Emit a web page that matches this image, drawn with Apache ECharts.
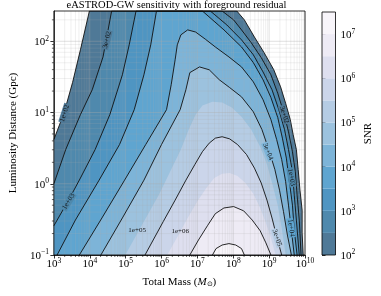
<!DOCTYPE html>
<html><head><meta charset="utf-8">
<script src="https://cdn.jsdelivr.net/npm/echarts@6/dist/echarts.min.js"></script>
<style>html,body{margin:0;padding:0;background:#fff}#c{width:381px;height:296px}</style>
</head><body><div id="c"></div>
<script>
// ---- data: contour polylines as [log10 M (Msun), log10 D (Gpc)] ----
const snr1e2 = [[3.00,0.62],[3.28,0.99],[3.52,1.42],[3.74,1.88],[3.99,2.425],[8.10,2.425],[8.31,2.30],[8.59,2.06],[8.86,1.84],[9.13,1.60],[9.32,1.36],[9.46,1.13],[9.59,0.90],[9.67,0.69],[9.76,0.48],[9.81,0.20],[9.86,-0.09],[9.92,-0.37],[9.92,-0.69],[9.95,-1.00]];
const snr3e2 = [[3.00,0.00],[3.33,0.48],[3.74,0.97],[4.07,1.32],[4.37,1.78],[4.61,2.425],[7.69,2.425],[8.01,2.30],[8.23,2.16],[8.50,1.98],[8.78,1.77],[9.05,1.53],[9.24,1.27],[9.40,1.01],[9.54,0.73],[9.65,0.45],[9.73,0.17],[9.78,-0.16],[9.84,-0.51],[9.89,-1.00]];
const snr1e3 = [[3.00,-0.59],[3.41,-0.23],[3.74,0.08],[4.15,0.48],[4.56,0.97],[4.91,1.53],[5.10,1.95],[5.29,2.425],[7.36,2.425],[7.82,2.23],[8.23,2.02],[8.56,1.81],[8.83,1.57],[9.08,1.32],[9.27,1.04],[9.43,0.76],[9.54,0.48],[9.65,0.17],[9.70,-0.16],[9.76,-0.51],[9.84,-1.00]];
const snr3e3 = [[3.09,-1.00],[3.60,-0.51],[4.26,0.05],[4.83,0.55],[5.24,1.04],[5.51,1.53],[5.70,1.95],[5.86,2.425],[7.14,2.425],[7.74,2.16],[8.23,1.92],[8.56,1.70],[8.83,1.46],[9.05,1.21],[9.24,0.93],[9.37,0.64],[9.48,0.36],[9.56,0.05],[9.65,-0.30],[9.70,-0.65],[9.78,-1.00]];
const snr1e4 = [[3.71,-1.00],[4.34,-0.48],[4.97,0.05],[5.56,0.55],[6.14,1.04],[6.27,1.39],[6.38,1.74],[6.44,1.95],[6.54,2.09],[6.73,2.16],[6.95,2.13],[7.22,2.03],[7.50,1.92],[7.88,1.78],[8.23,1.64],[8.56,1.43],[8.83,1.18],[9.05,0.90],[9.21,0.62],[9.35,0.34],[9.46,0.03],[9.54,-0.30],[9.62,-0.65],[9.70,-1.00]];
const snr3e4 = [[4.31,-1.00],[4.91,-0.48],[5.51,0.05],[6.00,0.55],[6.52,1.04],[6.68,1.32],[6.79,1.56],[7.06,1.64],[7.33,1.60],[7.61,1.46],[7.90,1.35],[8.23,1.22],[8.56,1.01],[8.80,0.76],[8.99,0.48],[9.16,0.20],[9.29,-0.09],[9.40,-0.39],[9.51,-0.72],[9.62,-1.00]];
const snr1e5 = [[4.99,-1.00],[5.51,-0.53],[5.92,-0.16],[6.27,0.20],[6.54,0.48],[6.76,0.76],[6.95,0.97],[7.14,1.10],[7.42,1.15],[7.69,1.14],[7.96,1.07],[8.23,0.94],[8.50,0.76],[8.75,0.52],[8.94,0.27],[9.10,-0.02],[9.24,-0.30],[9.35,-0.62],[9.46,-1.00]];
const snr3e5 = [[5.54,-1.00],[6.05,-0.53],[6.38,-0.23],[6.68,0.05],[6.93,0.27],[7.14,0.45],[7.33,0.57],[7.50,0.64],[7.69,0.66],[7.90,0.63],[8.12,0.55],[8.37,0.41],[8.59,0.22],[8.78,0.01],[8.94,-0.23],[9.08,-0.48],[9.21,-0.74],[9.35,-1.00]];
const snr1e6 = [[6.16,-1.00],[6.46,-0.73],[6.73,-0.48],[7.01,-0.24],[7.25,-0.06],[7.47,0.08],[7.69,0.14],[7.90,0.15],[8.12,0.11],[8.34,0.01],[8.56,-0.14],[8.75,-0.34],[8.91,-0.55],[9.05,-0.76],[9.18,-1.00]];
const snr3e6 = [[6.79,-1.00],[7.03,-0.79],[7.28,-0.59],[7.50,-0.42],[7.74,-0.34],[8.01,-0.32],[8.29,-0.38],[8.53,-0.51],[8.75,-0.66],[8.91,-0.83],[9.05,-1.00]];
const snr1e7 = [[7.42,-1.00],[7.52,-0.91],[7.69,-0.86],[7.88,-0.84],[8.07,-0.86],[8.23,-0.91],[8.31,-1.00]];

// fill levels (log10 SNR) and the colour of the band starting at each level
const fillLevels = [2, 2.5, 3, 3.5, 4, 4.5, 5, 5.5, 6, 6.5, 7];
const cbarTop = 7.5;
const bandColors = ['#4f7997','#4f89ad','#4f95c2','#5fa5d0','#7db4d8','#9cc2de','#b5cce4','#cbd5ea','#dedfef','#eeebf5','#f8f5fa'];
const contourSets = [snr1e2, snr3e2, snr1e3, snr3e3, snr1e4, snr3e4, snr1e5, snr3e5, snr1e6, snr3e6, snr1e7];
// contour lines visible in the picture (1e5 and 1e6 appear only as fill edges)
const contourDrawn = [true, true, true, true, true, true, false, true, false, true, true];

// inline contour labels: [text, log10 M, log10 D, rotation deg, background band (-1 none)]
const contourLabels = [
  ['1e+02', 3.30, 0.99, 72, 0],
  ['3e+02', 4.48, 2.02, 76, 0],
  ['1e+03', 3.41, -0.25, 58, 1],
  ['1e+05', 5.32, -0.65, 0, -1],
  ['1e+06', 6.52, -0.67, 0, -1],
  ['3e+04', 8.97, 0.45, -68, 4],
  ['3e+05', 9.22, -0.76, -72, 6],
  ['3e+02', 9.42, 0.97, -72, 0],
  ['1e+03', 9.62, 0.09, -80, 1],
  ['1e+04', 9.61, -0.62, -82, 3]
];

const massTicks = [1e3, 1e4, 1e5, 1e6, 1e7, 1e8, 1e9, 1e10];
const distTicks = [0.1, 1, 10, 100];
const snrTicks = [1e2, 1e3, 1e4, 1e5, 1e6, 1e7];
const minorMult = [2, 3, 4, 5, 6, 7, 8, 9];
const xMin = 1e3, xMax = 1e10, yMin = 0.1, yMax = Math.pow(10, 2.425);

const F = "'Liberation Serif','Times New Roman',serif";
const P = v => Math.pow(10, v);

function supLabel(v) {
  const e = Math.round(Math.log10(v));
  if (Math.abs(Math.log10(v) - e) > 1e-6) return '';
  const s = e < 0 ? '\u2212' + (-e) : String(e);
  return '{b|10}{s|' + s + '}';
}
const rich = {
  b: {fontFamily: F, fontSize: 11, color: '#000', lineHeight: 13, verticalAlign: 'bottom'},
  s: {fontFamily: F, fontSize: 7.5, color: '#000', lineHeight: 6, verticalAlign: 'top'}
};

// grid lines (major + minor) positions
const xMinor = [], yMinor = [];
massTicks.slice(0, -1).forEach(d => minorMult.forEach(m => xMinor.push(d * m)));
distTicks.forEach(d => minorMult.forEach(m => { if (d * m < yMax) yMinor.push(d * m); }));
const gridData = [];
massTicks.forEach(v => gridData.push([v, 1, 0, 1]));
xMinor.forEach(v => gridData.push([v, 1, 0, 0]));
distTicks.forEach(v => gridData.push([1e5, v, 1, 1]));
yMinor.forEach(v => gridData.push([1e5, v, 1, 0]));

const chart = echarts.init(document.getElementById('c'), null, {renderer: 'canvas'});

const series = [];
// filled contours
series.push({
  type: 'custom', xAxisIndex: 0, yAxisIndex: 0, clip: true, z: 1, silent: true,
  data: contourSets.map((c, k) => [1e5, 1, k]),
  encode: {x: 0, y: 1},
  renderItem: (params, api) => {
    const k = api.value(2);
    const c = contourSets[k];
    const pts = c.map(p => api.coord([P(p[0]), P(p[1])]));
    if (c[0][0] <= 3.0001) pts.push(api.coord([xMin, yMin]));
    return {type: 'polygon', shape: {points: pts}, style: {fill: bandColors[k]}};
  }
});
// grid lines on top of fills
series.push({
  type: 'custom', xAxisIndex: 0, yAxisIndex: 0, clip: true, z: 2, silent: true,
  data: gridData, encode: {x: 0, y: 1},
  renderItem: (params, api) => {
    const v0 = api.value(0), v1 = api.value(1), dir = api.value(2), major = api.value(3);
    let a, b;
    if (dir === 0) { a = api.coord([v0, yMin]); b = api.coord([v0, yMax]); }
    else { a = api.coord([xMin, v1]); b = api.coord([xMax, v1]); }
    return {type: 'line', shape: {x1: a[0], y1: a[1], x2: b[0], y2: b[1]},
      style: {stroke: major ? 'rgba(170,170,170,0.45)' : 'rgba(170,170,170,0.3)', lineWidth: major ? 0.8 : 0.6}};
  }
});
// contour lines
contourSets.forEach((c, k) => {
  if (!contourDrawn[k]) return;
  series.push({
    type: 'line', xAxisIndex: 0, yAxisIndex: 0, z: 3, silent: true, symbol: 'none', animation: false,
    data: c.map(p => [P(p[0]), P(p[1])]),
    lineStyle: {color: '#111', width: 0.9}
  });
});
// contour labels
series.push({
  type: 'custom', xAxisIndex: 0, yAxisIndex: 0, clip: true, z: 4, silent: true,
  data: contourLabels.map((l, i) => [P(l[1]), P(l[2]), i]), encode: {x: 0, y: 1},
  renderItem: (params, api) => {
    const l = contourLabels[api.value(2)];
    const p = api.coord([P(l[1]), P(l[2])]);
    const st = {text: l[0], fontFamily: F, fontSize: 7, fill: '#111', align: 'center', verticalAlign: 'middle'};
    if (l[4] >= 0) { st.backgroundColor = bandColors[l[4]]; st.padding = [0, 1]; }
    return {type: 'text', x: p[0], y: p[1], rotation: l[3] * Math.PI / 180, style: st};
  }
});
// minor ticks + frame
series.push({
  type: 'custom', xAxisIndex: 0, yAxisIndex: 0, clip: false, z: 5, silent: true,
  data: [[1e5, 1]], encode: {x: 0, y: 1},
  renderItem: (params, api) => {
    const ch = [];
    xMinor.forEach(v => { const a = api.coord([v, yMin]);
      ch.push({type: 'line', shape: {x1: a[0], y1: a[1], x2: a[0], y2: a[1] + 2}, style: {stroke: '#000', lineWidth: 0.6}}); });
    yMinor.forEach(v => { const a = api.coord([xMin, v]);
      ch.push({type: 'line', shape: {x1: a[0], y1: a[1], x2: a[0] - 2, y2: a[1]}, style: {stroke: '#000', lineWidth: 0.6}}); });
    const tl = api.coord([xMin, yMax]), br = api.coord([xMax, yMin]);
    ch.push({type: 'rect', shape: {x: tl[0], y: tl[1], width: br[0] - tl[0], height: br[1] - tl[1]},
      style: {fill: null, stroke: '#000', lineWidth: 0.8}});
    return {type: 'group', children: ch};
  }
});
// colour bar
series.push({
  type: 'custom', xAxisIndex: 1, yAxisIndex: 1, clip: false, z: 1, silent: true,
  data: fillLevels.map((lv, k) => [0.5, P(lv), k]), encode: {x: 0, y: 1},
  renderItem: (params, api) => {
    const k = api.value(2);
    const lo = fillLevels[k], hi = k + 1 < fillLevels.length ? fillLevels[k + 1] : cbarTop;
    const a = api.coord([0, P(lo)]), b = api.coord([1, P(hi)]);
    const ch = [{type: 'rect', shape: {x: a[0], y: b[1], width: b[0] - a[0], height: a[1] - b[1]}, style: {fill: bandColors[k]}}];
    if (k === fillLevels.length - 1) {
      const c0 = api.coord([0, P(fillLevels[0])]);
      ch.push({type: 'rect', shape: {x: c0[0], y: b[1], width: b[0] - c0[0], height: c0[1] - b[1]}, style: {fill: null, stroke: '#000', lineWidth: 0.8}, z2: 10});
    }
    return {type: 'group', children: ch};
  }
});

chart.setOption({
  animation: false,
  backgroundColor: '#fff',
  title: {text: 'eASTROD-GW sensitivity with foreground residual', left: 176.5, top: 0, padding: 0, textAlign: 'center',
    textStyle: {fontFamily: F, fontSize: 10.5, fontWeight: 'normal', color: '#000', lineHeight: 10}},
  grid: [
    {left: 48, top: 11, width: 257, height: 244, show: false},
    {left: 322, top: 12, width: 13.5, height: 243, show: false}
  ],
  xAxis: [
    {type: 'log', logBase: 10, min: xMin, max: xMax, gridIndex: 0,
      name: 'Total Mass ({i|M}{sub|\u2299})', nameLocation: 'middle', nameGap: 12,
      nameTextStyle: {fontFamily: F, fontSize: 11, color: '#000',
        rich: {i: {fontFamily: F, fontSize: 11, fontStyle: 'italic', color: '#000'}, sub: {fontFamily: F, fontSize: 7, color: '#000', verticalAlign: 'bottom', lineHeight: 8, padding: [6, 0, 0, 0]}}},
      axisLine: {lineStyle: {color: '#000', width: 0.8}},
      axisTick: {length: 3.5, lineStyle: {color: '#000', width: 0.8}, customValues: massTicks},
      axisLabel: {margin: 2, formatter: supLabel, rich: rich, customValues: massTicks},
      splitLine: {show: false}, minorTick: {show: false}},
    {type: 'value', min: 0, max: 1, gridIndex: 1, show: false}
  ],
  yAxis: [
    {type: 'log', logBase: 10, min: yMin, max: yMax, gridIndex: 0,
      name: 'Luminosity Distance (Gpc)', nameLocation: 'middle', nameGap: 30, nameRotate: 90,
      nameTextStyle: {fontFamily: F, fontSize: 11, color: '#000'},
      axisLine: {lineStyle: {color: '#000', width: 0.8}},
      axisTick: {length: 3.5, lineStyle: {color: '#000', width: 0.8}, customValues: distTicks},
      axisLabel: {margin: 5, formatter: supLabel, rich: rich, customValues: distTicks},
      splitLine: {show: false}},
    {type: 'log', logBase: 10, min: 1e2, max: P(cbarTop), gridIndex: 1, position: 'right',
      name: 'SNR', nameLocation: 'middle', nameGap: 27, nameRotate: 90,
      nameTextStyle: {fontFamily: F, fontSize: 11, color: '#000'},
      axisLine: {show: false},
      axisTick: {length: 3.5, lineStyle: {color: '#000', width: 0.8}, customValues: snrTicks},
      axisLabel: {margin: 5, formatter: supLabel, rich: rich, customValues: snrTicks},
      splitLine: {show: false}}
  ],
  series: series
});
</script>
</body></html>
